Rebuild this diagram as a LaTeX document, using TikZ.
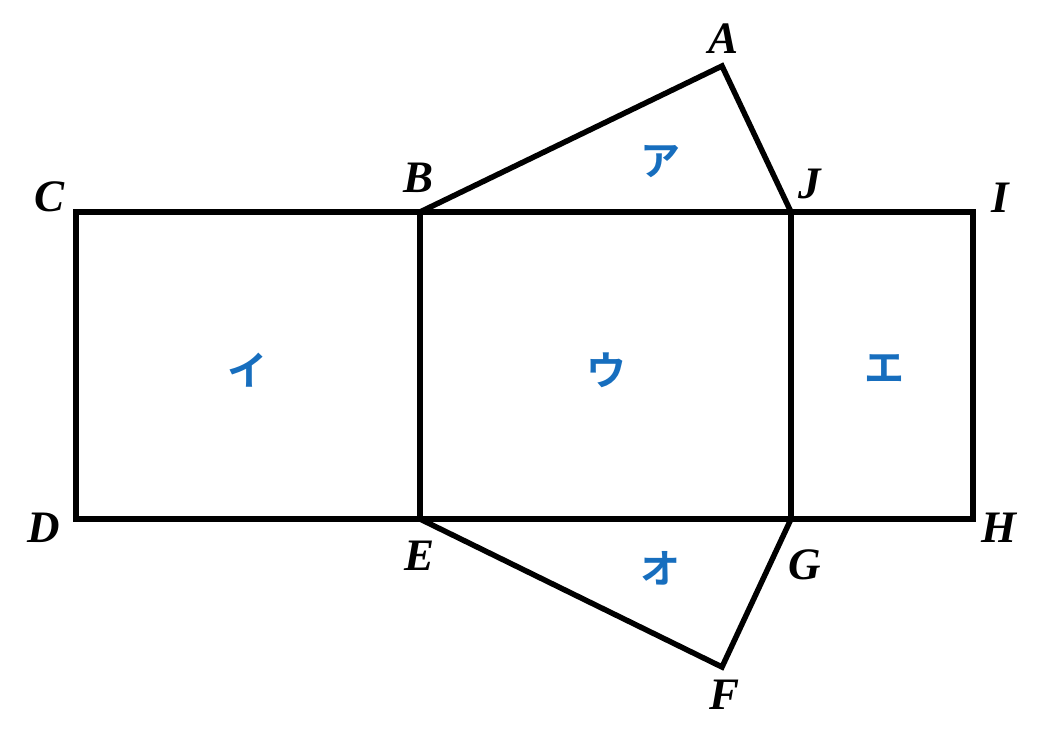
\documentclass[tikz,border=0pt]{standalone}
\usepackage{fontspec}
\setmainfont{Liberation Serif}
\newfontfamily\cjk{Noto Sans CJK JP}[BoldFont={Noto Sans CJK JP Bold}]
\definecolor{kblue}{RGB}{23,110,190}
\begin{document}
\begin{tikzpicture}[x=1pt,y=-1pt,
  edge/.style={line width=5.5pt,line join=miter,line cap=butt},
  inner/.style={line width=6.5pt,line cap=butt},
  lab/.style={anchor=base,inner sep=0pt,font=\fontsize{45}{45}\selectfont\bfseries\itshape},
  kana/.style={anchor=center,inner sep=0pt,text=kblue,font=\fontsize{40}{40}\selectfont\cjk\bfseries}]
\useasboundingbox (0,0) rectangle (1046,734);
\coordinate (A) at (722,66);
\coordinate (B) at (420,212);
\coordinate (C) at (76,212);
\coordinate (D) at (76,519);
\coordinate (E) at (420,519);
\coordinate (F) at (722,667);
\coordinate (G) at (791,519);
\coordinate (H) at (973,519);
\coordinate (I) at (973,212);
\coordinate (J) at (791,212);
\draw[edge] (C) -- (I) -- (H) -- (D) -- cycle;
\draw[inner] (B) -- (E);
\draw[inner] (J) -- (G);
\draw[edge] (B) -- (A) -- (J);
\draw[edge] (E) -- (F) -- (G);
\node[lab] (lA) at (723,53) {A};
\node[lab] (lB) at (419,192) {B};
\node[lab] (lC) at (50,211) {C};
\node[lab] (lJ) at (810,198) {J};
\node[lab] (lI) at (1000,212) {I};
\node[lab] (lD) at (44,542) {D};
\node[lab] (lE) at (420,570) {E};
\node[lab] (lG) at (805,579) {G};
\node[lab] (lH) at (999,542) {H};
\node[lab] (lF) at (724,709) {F};
\node[kana] (ka) at (660,162) {ア};
\node[kana] (ki) at (247,370) {イ};
\node[kana] (ku) at (606,370) {ウ};
\node[kana] (ke) at (884,369) {エ};
\node[kana] (ko) at (660,568) {オ};
\end{tikzpicture}
\end{document}
